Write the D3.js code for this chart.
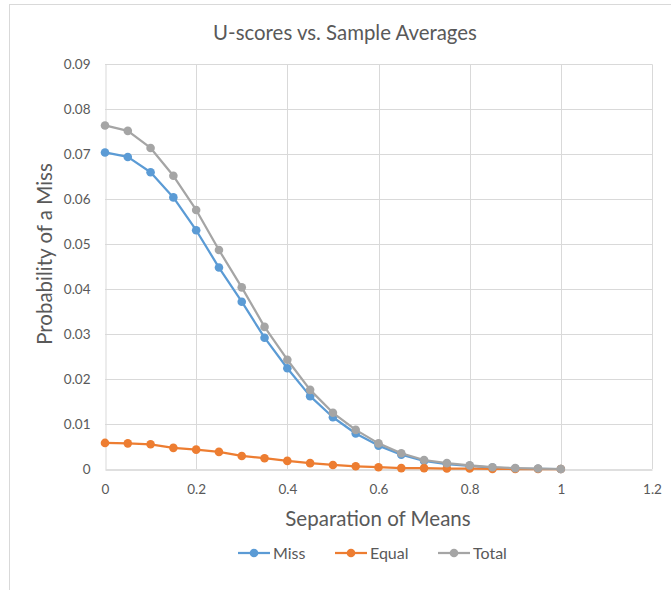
<!DOCTYPE html>
<html><head><meta charset="utf-8">
<script src="https://cdn.jsdelivr.net/npm/d3@7"></script>
<style>body{margin:0;background:#fff;}svg{display:block;font-family:Lato,"Open Sans",sans-serif;}</style>
</head><body><svg id="c" width="671" height="590"></svg>
<script>
const separation = [0,0.05,0.1,0.15,0.2,0.25,0.3,0.35,0.4,0.45,0.5,0.55,0.6,0.65,0.7,0.75,0.8,0.85,0.9,0.95,1];
const miss  = [0.0704,0.0694,0.0660,0.0604,0.0531,0.0448,0.0372,0.0292,0.0224,0.0162,0.0115,0.0079,0.0052,0.0032,0.0018,0.0011,0.0007,0.0003,0.0001,0.00005,0];
const equal = [0.0058,0.0057,0.0055,0.0047,0.0043,0.0038,0.0029,0.0024,0.0018,0.0013,0.0009,0.0006,0.0004,0.0002,0.0002,0.0001,0.0001,0.0000,0,0,0];
const total = [0.0764,0.0752,0.0714,0.0652,0.0576,0.0487,0.0404,0.0316,0.0243,0.0176,0.0125,0.0087,0.0057,0.0035,0.0020,0.0013,0.0008,0.0004,0.0002,0.0001,0];
const seriesNames = ["Miss","Equal","Total"];
const seriesColors = ["#5B9BD5","#ED7D31","#A5A5A5"];
const xTicks = [0,0.2,0.4,0.6,0.8,1,1.2];
const yTicks = [0,0.01,0.02,0.03,0.04,0.05,0.06,0.07,0.08,0.09];
const titleText = "U-scores vs. Sample Averages";
const xTitle = "Separation of Means";
const yTitle = "Probability of a Miss";

const svg = d3.select("#c");
const txt = "#595959";
// chart border
svg.append("rect").attr("x",9.5).attr("y",4.5).attr("width",700).attr("height",700)
  .attr("fill","none").attr("stroke","#d9d9d9").attr("stroke-width",1);

const x = d3.scaleLinear().domain([0,1.2]).range([105,652]);
const y = d3.scaleLinear().domain([0,0.09]).range([469,64.3]);

// gridlines
svg.append("g").selectAll("line").data(yTicks.filter(d=>d>0)).join("line")
  .attr("x1",x(0)).attr("x2",x(1.2)).attr("y1",d=>Math.round(y(d))+0.5).attr("y2",d=>Math.round(y(d))+0.5)
  .attr("stroke","#d9d9d9").attr("stroke-width",1);
svg.append("g").selectAll("line").data(xTicks.filter(d=>d>0)).join("line")
  .attr("x1",d=>Math.round(x(d))+0.5).attr("x2",d=>Math.round(x(d))+0.5).attr("y1",y(0)).attr("y2",y(0.09))
  .attr("stroke","#d9d9d9").attr("stroke-width",1);

// axes
const xAxis = d3.axisBottom(x).tickValues(xTicks).tickSize(0).tickPadding(15).tickFormat(d=>String(+d.toFixed(1)));
const gx = svg.append("g").attr("transform",`translate(0,${Math.round(y(0))+0.5})`).call(xAxis);
gx.select(".domain").attr("stroke","#bfbfbf");
gx.selectAll("text").attr("fill",txt).attr("font-size","13.5px").attr("font-family","Lato");
const yAxis = d3.axisLeft(y).tickValues(yTicks).tickSize(0).tickPadding(15).tickFormat(d=>d===0?"0":d.toFixed(2));
const gy = svg.append("g").attr("transform",`translate(${Math.round(x(0))+0.5},0)`).call(yAxis);
gy.select(".domain").attr("stroke","#d9d9d9");
gy.selectAll("text").attr("fill",txt).attr("font-size","13.5px").attr("font-family","Lato");

// series
const allSeries = [miss,equal,total];
const line = d3.line().x((d,i)=>x(separation[i])).y(d=>y(d));
allSeries.forEach((vals,k)=>{
  const g = svg.append("g");
  g.append("path").datum(vals).attr("d",line).attr("fill","none")
    .attr("stroke",seriesColors[k]).attr("stroke-width",2.25).attr("stroke-linejoin","round");
  g.selectAll("circle").data(vals).join("circle")
    .attr("cx",(d,i)=>x(separation[i])).attr("cy",d=>y(d)).attr("r",4.3)
    .attr("fill",seriesColors[k]);
});

// titles
svg.append("text").attr("x",345).attr("y",40).attr("text-anchor","middle")
  .attr("fill",txt).attr("font-size","20.4px").text(titleText);
svg.append("text").attr("x",378).attr("y",526).attr("text-anchor","middle")
  .attr("fill",txt).attr("font-size","20.5px").text(xTitle);
svg.append("text").attr("transform","translate(52,254) rotate(-90)").attr("text-anchor","middle")
  .attr("fill",txt).attr("font-size","20.5px").text(yTitle);

// legend
const legX = [238,335,438];
seriesNames.forEach((n,k)=>{
  const g = svg.append("g").attr("transform",`translate(${legX[k]},553)`);
  g.append("line").attr("x1",0).attr("x2",32).attr("stroke",seriesColors[k]).attr("stroke-width",2.25);
  g.append("circle").attr("cx",16).attr("r",4.3).attr("fill",seriesColors[k]);
  g.append("text").attr("x",35).attr("y",5.5).attr("fill",txt).attr("font-size","16px").text(n);
});
</script></body></html>
